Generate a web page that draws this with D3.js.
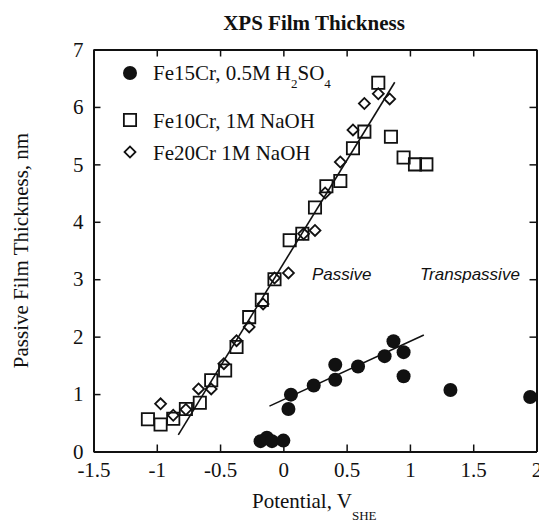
<!DOCTYPE html>
<html>
<head>
<meta charset="utf-8">
<script src="https://cdn.jsdelivr.net/npm/d3@7"></script>
<style>
  body { margin: 0; background: #fff; }
  svg { display: block; }
  text { font-family: "Liberation Serif", "Times New Roman", serif; fill: #111; }
</style>
</head>
<body>
<div id="chart"></div>
<script>
// Fe15Cr in 0.5M H2SO4 (filled circles)
const h2so4V = [-0.18, -0.13, -0.09, 0.0, 0.04, 0.06, 0.24, 0.41, 0.41, 0.59, 0.80, 0.87, 0.95, 0.95, 1.32, 1.95];
const h2so4T = [0.18, 0.24, 0.18, 0.19, 0.74, 0.99, 1.15, 1.25, 1.51, 1.48, 1.66, 1.92, 1.73, 1.31, 1.07, 0.95];

// Fe10Cr in 1M NaOH (open squares)
const fe10V = [-1.07, -0.97, -0.87, -0.77, -0.66, -0.57, -0.46, -0.37, -0.27, -0.17, -0.07, 0.05, 0.15, 0.25, 0.34, 0.45, 0.55, 0.64, 0.75, 0.85, 0.95, 1.04, 1.13];
const fe10T = [0.56, 0.47, 0.57, 0.74, 0.85, 1.24, 1.41, 1.82, 2.34, 2.64, 3.0, 3.68, 3.79, 4.25, 4.62, 4.71, 5.28, 5.57, 6.42, 5.48, 5.12, 5.0, 5.0];

// Fe20Cr in 1M NaOH (open diamonds)
const fe20V = [-0.97, -0.87, -0.77, -0.67, -0.57, -0.47, -0.37, -0.27, -0.16, -0.07, 0.04, 0.16, 0.25, 0.33, 0.45, 0.55, 0.64, 0.75, 0.84];
const fe20T = [0.83, 0.63, 0.73, 1.09, 1.09, 1.53, 1.93, 2.17, 2.57, 3.02, 3.11, 3.79, 3.85, 4.5, 5.04, 5.6, 6.06, 6.23, 6.14];

// fitted lines (end points)
const naohFitV = [-0.83, 0.88];
const naohFitT = [0.29, 6.43];
const h2so4FitV = [-0.11, 1.11];
const h2so4FitT = [0.79, 2.03];

const xTicks = [-1.5, -1, -0.5, 0, 0.5, 1, 1.5, 2];
const yTicks = [0, 1, 2, 3, 4, 5, 6, 7];

const width = 539, height = 526;
const margin = { top: 49.5, right: 2.5, bottom: 74.5, left: 93.5 };

const svg = d3.select("#chart").append("svg")
    .attr("width", width)
    .attr("height", height);

const x = d3.scaleLinear().domain([-1.5, 2]).range([margin.left, width - margin.right]);
const y = d3.scaleLinear().domain([0, 7]).range([height - margin.bottom, margin.top]);

//title
svg.append("text")
    .attr("x", 314).attr("y", 30)
    .attr("text-anchor", "middle")
    .style("font-size", "21px")
    .style("font-weight", "bold")
    .text("XPS Film Thickness");

//axes, ticks pointing inward on all four sides
const styleAxis = (g) => {
  g.select(".domain").attr("stroke", "#111").attr("stroke-width", 2);
  g.selectAll(".tick line").attr("stroke", "#111").attr("stroke-width", 1.5);
  g.selectAll(".tick text").style("font-size", "21px").style("font-family", "Liberation Serif, serif").attr("fill", "#111");
};

svg.append("g")
    .attr("transform", `translate(0,${y(0)})`)
    .call(d3.axisBottom(x).tickValues(xTicks).tickSize(-7).tickSizeOuter(0).tickPadding(11).tickFormat((d) => String(d)))
    .call(styleAxis);

svg.append("g")
    .attr("transform", `translate(0,${y(7)})`)
    .call(d3.axisTop(x).tickValues(xTicks).tickSize(-7).tickSizeOuter(0).tickFormat(""))
    .call(styleAxis);

svg.append("g")
    .attr("transform", `translate(${x(-1.5)},0)`)
    .call(d3.axisLeft(y).tickValues(yTicks).tickSize(-7).tickSizeOuter(0).tickPadding(10).tickFormat((d) => String(d)))
    .call(styleAxis);

svg.append("g")
    .attr("transform", `translate(${x(2)},0)`)
    .call(d3.axisRight(y).tickValues(yTicks).tickSize(-7).tickSizeOuter(0).tickFormat(""))
    .call(styleAxis);

//axis titles
svg.append("text")
    .attr("transform", `translate(28,${(y(0) + y(7)) / 2}) rotate(-90)`)
    .attr("text-anchor", "middle")
    .style("font-size", "21px")
    .text("Passive Film Thickness, nm");

const xt = svg.append("text")
    .attr("x", 252).attr("y", 508)
    .style("font-size", "21px");
xt.append("tspan").text("Potential, V");
xt.append("tspan").attr("dy", 12).style("font-size", "13px").text("SHE");

//fit lines
const line = d3.line().x((d) => x(d[0])).y((d) => y(d[1]));
svg.append("path")
    .attr("d", line(d3.zip(naohFitV, naohFitT)))
    .attr("fill", "none").attr("stroke", "#111").attr("stroke-width", 1.6);
svg.append("path")
    .attr("d", line(d3.zip(h2so4FitV, h2so4FitT)))
    .attr("fill", "none").attr("stroke", "#111").attr("stroke-width", 1.6);

//markers
const sq = d3.symbol().type(d3.symbolSquare).size(150);
const dm = d3.symbol().type(d3.symbolSquare).size(60);

svg.append("g").selectAll("path")
    .data(d3.zip(fe10V, fe10T))
    .enter().append("path")
    .attr("transform", (d) => `translate(${x(d[0])},${y(d[1])})`)
    .attr("d", sq)
    .attr("fill", "none").attr("stroke", "#111").attr("stroke-width", 1.8);

svg.append("g").selectAll("path")
    .data(d3.zip(fe20V, fe20T))
    .enter().append("path")
    .attr("d", dm)
    .attr("transform", (d) => `translate(${x(d[0])},${y(d[1])}) rotate(45)`)
    .attr("fill", "none").attr("stroke", "#111").attr("stroke-width", 1.8);

svg.append("g").selectAll("circle")
    .data(d3.zip(h2so4V, h2so4T))
    .enter().append("circle")
    .attr("cx", (d) => x(d[0]))
    .attr("cy", (d) => y(d[1]))
    .attr("r", 7)
    .attr("fill", "#111");

//region labels
svg.append("text")
    .attr("x", 312).attr("y", 280)
    .style("font-family", "Liberation Sans, Arial, sans-serif")
    .style("font-style", "italic")
    .style("font-size", "17px")
    .text("Passive");
svg.append("text")
    .attr("x", 420).attr("y", 280)
    .style("font-family", "Liberation Sans, Arial, sans-serif")
    .style("font-style", "italic")
    .style("font-size", "17px")
    .text("Transpassive");

//legend
const legend = svg.append("g");
legend.append("circle").attr("cx", 130).attr("cy", 73).attr("r", 7).attr("fill", "#111");
legend.append("path").attr("d", sq).attr("transform", "translate(130,120)")
    .attr("fill", "none").attr("stroke", "#111").attr("stroke-width", 1.8);
legend.append("path").attr("d", dm).attr("transform", "translate(130,152) rotate(45)")
    .attr("fill", "none").attr("stroke", "#111").attr("stroke-width", 1.8);

const l1 = legend.append("text").attr("x", 153).attr("y", 80).style("font-size", "21px");
l1.append("tspan").text("Fe15Cr, 0.5M H");
l1.append("tspan").attr("dy", 8).style("font-size", "13px").text("2");
l1.append("tspan").attr("dy", -8).text("SO");
l1.append("tspan").attr("dy", 8).style("font-size", "13px").text("4");

legend.append("text").attr("x", 153).attr("y", 128).style("font-size", "21px").text("Fe10Cr, 1M NaOH");
legend.append("text").attr("x", 153).attr("y", 160).style("font-size", "21px").text("Fe20Cr 1M NaOH");
</script>
</body>
</html>
